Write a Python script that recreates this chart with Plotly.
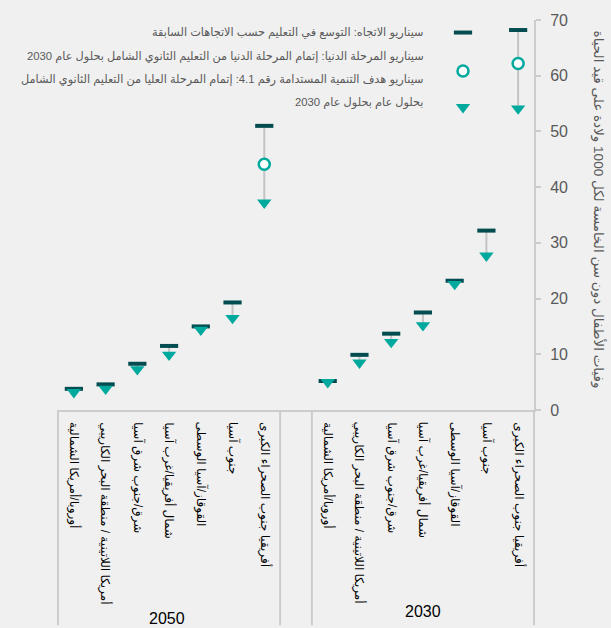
import plotly.graph_objects as go

# ---------------- data ----------------
groups = ["2030", "2050"]
categories = [
    "أفريقيا جنوب الصحراء الكبرى",
    "جنوب آسيا",
    "القوقاز/آسيا الوسطى",
    "شمال أفريقيا/غرب آسيا",
    "شرق/جنوب شرق آسيا",
    "أمريكا اللاتينية / منطقة البحر الكاريبي",
    "أوروبا/أمريكا الشمالية",
]
trend_2030 = [68.2, 32.2, 23.2, 17.5, 13.7, 9.9, 5.2]
minimal_2030 = [62.2, None, None, None, None, None, None]
sdg_2030 = [54.1, 27.7, 22.6, 15.2, 12.2, 8.5, 5.0]

trend_2050 = [51.0, 19.3, 15.0, 11.5, 8.3, 4.6, 3.8]
minimal_2050 = [44.1, None, None, None, None, None, None]
sdg_2050 = [37.2, 16.5, 14.4, 9.9, 7.3, 3.8, 3.2]

legend_labels = [
    "سيناريو الاتجاه: التوسع في التعليم حسب الاتجاهات السابقة",
    "سيناريو المرحلة الدنيا: إتمام المرحلة الدنيا من التعليم الثانوي الشامل بحلول عام 2030",
    "سيناريو هدف التنمية المستدامة رقم 4.1: إتمام المرحلة العليا من التعليم الثانوي الشامل",
    "بحلول عام بحلول عام 2030",
]
y_title = "وفيات الأطفال دون سن الخامسة لكل 1000 ولادة على قيد الحياة"
y_ticks = [0, 10, 20, 30, 40, 50, 60, 70]

# ---------------- styling ----------------
W, H = 611, 628
L, R, T, B = 58, 534, 15, 410  # plot area in pixels
DARK = "#034c50"
TEAL = "#00a99d"
GREY_LINE = "#c4c4c4"
FRAME = "#cccccc"
TXT = "#595959"
BG = "#f0f0f0"
FONT = "Arial, Liberation Sans, DejaVu Sans, sans-serif"


def px(xp):
    return (xp - L) / (R - L)


def py(yp):
    return (B - yp) / (B - T)


series = {
    "2030": (trend_2030, minimal_2030, sdg_2030),
    "2050": (trend_2050, minimal_2050, sdg_2050),
}

fig = go.Figure()

n = len(categories)
all_x, tr_y, mn_y, sd_y = [], [], [], []
line_x, line_y = [], []
for gi, g in enumerate(groups):
    tr, mn, sd = series[g]
    for ci in range(n):
        xv = gi * (n + 1) + ci
        all_x.append(xv)
        tr_y.append(tr[ci])
        mn_y.append(mn[ci])
        sd_y.append(sd[ci])
        line_x += [xv, xv, None]
        line_y += [tr[ci], sd[ci], None]

fig.add_trace(go.Scatter(x=line_x, y=line_y, mode="lines",
                         line=dict(color=GREY_LINE, width=2),
                         hoverinfo="skip", showlegend=False))
fig.add_trace(go.Scatter(x=all_x, y=tr_y, mode="markers",
                         marker=dict(symbol="line-ew", size=13,
                                     line=dict(color=DARK, width=4)),
                         showlegend=False))
fig.add_trace(go.Scatter(x=all_x, y=sd_y, mode="markers",
                         marker=dict(symbol="triangle-down", size=12.5, color=TEAL,
                                     line=dict(width=0)),
                         showlegend=False))
fig.add_trace(go.Scatter(x=all_x, y=mn_y, mode="markers",
                         marker=dict(symbol="circle", size=11, color="white",
                                     line=dict(color=TEAL, width=2.5)),
                         showlegend=False))

# custom legend keys (overlay axes in 0..1 units)
key_x = px(463)
fig.add_trace(go.Scatter(x=[key_x], y=[py(27.7)], xaxis="x2", yaxis="y2", mode="markers",
                         marker=dict(symbol="line-ew", size=13, line=dict(color=DARK, width=4)),
                         showlegend=False, hoverinfo="skip"))
fig.add_trace(go.Scatter(x=[key_x], y=[py(66.7)], xaxis="x2", yaxis="y2", mode="markers",
                         marker=dict(symbol="circle", size=11, color="white",
                                     line=dict(color=TEAL, width=2.5)),
                         showlegend=False, hoverinfo="skip"))
fig.add_trace(go.Scatter(x=[key_x], y=[py(103.3)], xaxis="x2", yaxis="y2", mode="markers",
                         marker=dict(symbol="triangle-down", size=12.5, color=TEAL, line=dict(width=0)),
                         showlegend=False, hoverinfo="skip"))

annotations = []
# legend text
for i, (txt, yp) in enumerate(zip(legend_labels, [28, 52, 76, 99])):
    annotations.append(dict(x=px(426), y=py(yp), xref="paper", yref="paper",
                            text=txt, showarrow=False, xanchor="right", yanchor="middle",
                            font=dict(size=11.3, color=TXT, family=FONT)))
# category labels
for gi, g in enumerate(groups):
    for ci, c in enumerate(categories):
        annotations.append(dict(x=gi * (n + 1) + ci, y=py(420), xref="x", yref="paper",
                                text=c, showarrow=False, textangle=90,
                                xanchor="center", yanchor="top",
                                font=dict(size=12, color="black", family=FONT)))
# group labels
annotations.append(dict(x=px(423), y=py(614), xref="paper", yref="paper", text=groups[0],
                        showarrow=False, xanchor="center", yanchor="middle",
                        font=dict(size=16, color="black", family=FONT)))
annotations.append(dict(x=px(167), y=py(621), xref="paper", yref="paper", text=groups[1],
                        showarrow=False, xanchor="center", yanchor="middle",
                        font=dict(size=16, color="black", family=FONT)))
# y axis title
annotations.append(dict(x=px(598), y=py(207), xref="paper", yref="paper", text=y_title,
                        showarrow=False, textangle=90, xanchor="center", yanchor="middle",
                        font=dict(size=13.5, color=TXT, family=FONT)))

shapes = []
ybot = py(628)
for xv, xr in [(0, "paper"), (1, "paper"), (n - 0.5, "x"), (n + 0.5, "x")]:
    shapes.append(dict(type="line", xref=xr, yref="paper", x0=xv, x1=xv, y0=0, y1=ybot,
                       line=dict(color=FRAME, width=2)))

fig.update_layout(
    width=W, height=H, autosize=False,
    margin=dict(l=L, r=W - R, t=T, b=H - B),
    paper_bgcolor=BG, plot_bgcolor=BG,
    showlegend=False,
    xaxis=dict(range=[2 * n + 0.5, -0.5], showticklabels=False, ticks="",
               showgrid=False, zeroline=False, showline=True,
               linecolor=FRAME, linewidth=2),
    yaxis=dict(range=[0, 70], side="right", tickvals=y_ticks, ticks="outside",
               ticklen=5, tickwidth=1.5, tickcolor=FRAME, showline=True,
               linecolor=FRAME, linewidth=2, showgrid=False, zeroline=False,
               ticklabelstandoff=6,
               tickfont=dict(size=16, color=TXT, family=FONT)),
    xaxis2=dict(range=[0, 1], overlaying="x", visible=False),
    yaxis2=dict(range=[0, 1], overlaying="y", visible=False),
    annotations=annotations,
    shapes=shapes,
)

fig.write_html("out.html", config={"displayModeBar": False},
               post_script="document.body.style.margin='0';document.body.style.overflow='hidden';"
                           "document.body.style.background='" + BG + "';")
